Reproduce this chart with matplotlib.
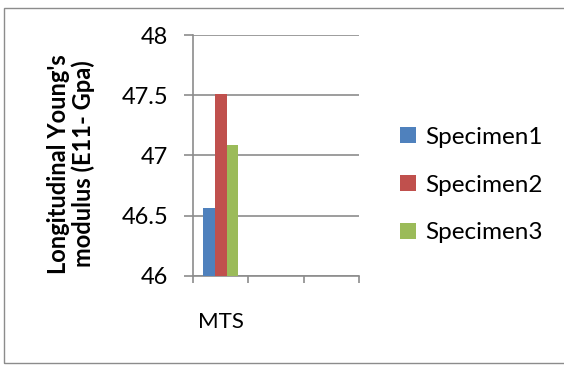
import numpy as np
import matplotlib.pyplot as plt
from matplotlib.patches import Rectangle

# 数据
categories = ["MTS", "", ""]
series_names = ["Specimen1", "Specimen2", "Specimen3"]
specimen1 = [46.56, np.nan, np.nan]
specimen2 = [47.51, np.nan, np.nan]
specimen3 = [47.09, np.nan, np.nan]
y_ticks = [46, 46.5, 47, 47.5, 48]
y_tick_labels = ["46", "46.5", "47", "47.5", "48"]

colors = ["#4F81BD", "#C0504D", "#9BBB59"]
grid_c = "#8C8C8C"

plt.rcParams["font.family"] = ["Lato", "DejaVu Sans"]

fig = plt.figure(figsize=(5.64, 3.65), dpi=100)
fig.patches.append(Rectangle((4 / 564, 2 / 365), 1.0, 355 / 365, transform=fig.transFigure,
                             fill=False, edgecolor="#8C8C8C", linewidth=1.0))

ax = fig.add_axes([193 / 564, (365 - 275.7) / 365, 166 / 564, 240.7 / 365])

X = np.arange(len(categories))
w = 0.213
for i, vals in enumerate([specimen1, specimen2, specimen3]):
    ax.bar(X + (i - 1) * w, np.array(vals) - 46, width=w, bottom=46,
           color=colors[i], label=series_names[i], zorder=3)

ax.set_ylim(46, 48)
ax.set_xlim(-0.5, len(categories) - 0.5)
ax.set_yticks(y_ticks, labels=y_tick_labels, fontsize=17)
ax.yaxis.grid(True, color=grid_c, linewidth=1.2, zorder=0)
ax.tick_params(axis="y", length=6.5, width=1.2, color=grid_c, pad=11.5)

# 分类刻度线在边界，标签在中间
ax.set_xticks(np.arange(len(categories) + 1) - 0.5, labels=[""] * (len(categories) + 1))
ax.set_xticks(X, labels=categories, minor=True, fontsize=16)
ax.tick_params(axis="x", which="major", length=5, width=1.2, color=grid_c)
ax.tick_params(axis="x", which="minor", length=0, pad=26)

for s in ["top", "right"]:
    ax.spines[s].set_visible(False)
for s in ["left", "bottom"]:
    ax.spines[s].set_color(grid_c)
    ax.spines[s].set_linewidth(1.2)

fig.text(71 / 564, 1 - 164 / 365, "Longitudinal Young's\nmodulus (E11- Gpa)", rotation=90,
         ha="center", va="center", fontsize=17, fontweight="bold", linespacing=1.1)

ax.legend(loc="center left", bbox_to_anchor=(400 / 564, 1 - 185 / 365), bbox_transform=fig.transFigure,
          frameon=False, fontsize=17.5, handlelength=0.66, handleheight=0.66, handletextpad=0.37,
          labelspacing=1.1, borderpad=0, borderaxespad=0)

fig.savefig("out.png", dpi=100)
